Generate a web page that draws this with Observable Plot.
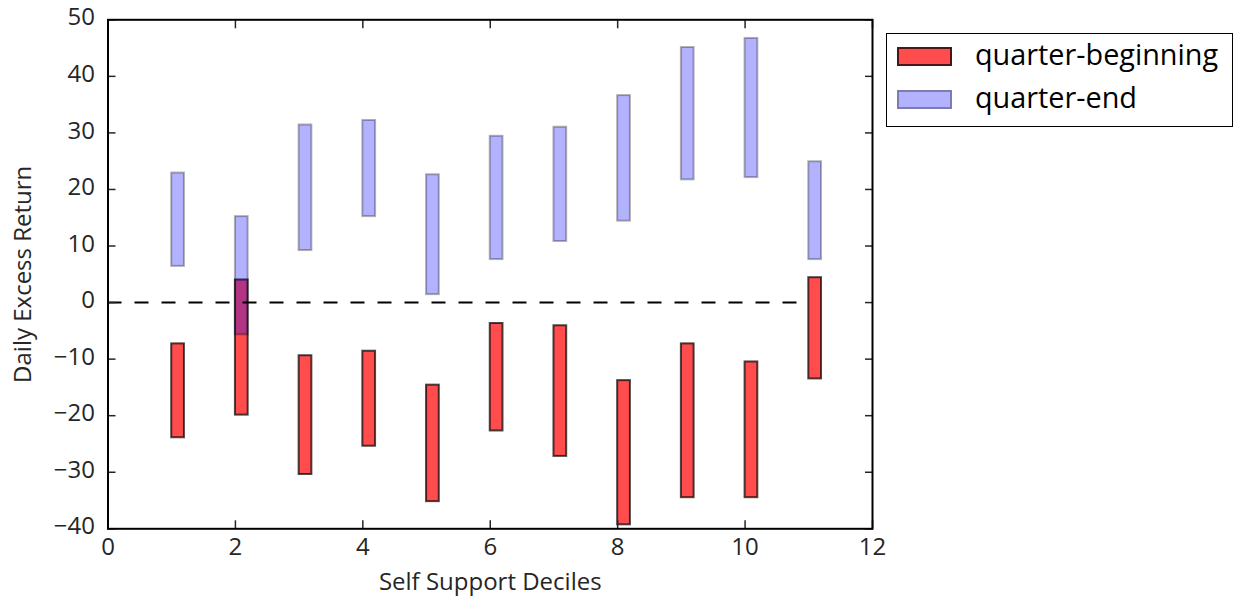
<!DOCTYPE html>
<html>
<head>
<meta charset="utf-8">
<script src="https://cdn.jsdelivr.net/npm/d3@7"></script>
<script src="https://cdn.jsdelivr.net/npm/@observablehq/plot@0.6"></script>
<style>
  body { margin: 0; background: #fff; }
  #wrap { position: relative; width: 1236px; height: 598px; font-family: "Open Sans", sans-serif; }
  .lg { position: absolute; box-sizing: border-box; }
  .lgt { position: absolute; font-size: 28.8px; line-height: 34px; color: #000; white-space: nowrap; }
</style>
</head>
<body>
<div id="wrap"></div>
<script>
// ---- data ----
const deciles = [1, 2, 3, 4, 5, 6, 7, 8, 9, 10, 11];
const beginLow  = [-23.9, -19.9, -30.4, -25.4, -35.2, -22.7, -27.2, -39.3, -34.5, -34.5, -13.5];
const beginHigh = [-7.3, 4.0, -9.4, -8.6, -14.6, -3.7, -4.1, -13.8, -7.3, -10.5, 4.4];
const endLow    = [6.4, -5.7, 9.2, 15.2, 1.4, 7.6, 10.8, 14.4, 21.7, 22.1, 7.6];
const endHigh   = [22.9, 15.2, 31.4, 32.2, 22.6, 29.4, 31.0, 36.6, 45.1, 46.7, 24.9];
const barWidth = 0.2;
const zeroLine = [{y: 0, x1: 0, x2: 11}];
const xTicks = [0, 2, 4, 6, 8, 10, 12];
const yTicks = [-40, -30, -20, -10, 0, 10, 20, 30, 40, 50];
const seriesNames = ["quarter-beginning", "quarter-end"];

const beginData = deciles.map((d, i) => ({x1: d, x2: d + barWidth, y1: beginLow[i], y2: beginHigh[i]}));
const endData = deciles.map((d, i) => ({x1: d, x2: d + barWidth, y1: endLow[i], y2: endHigh[i]}));

const plot = Plot.plot({
  width: 1236,
  height: 598,
  marginLeft: 107.5,
  marginRight: 364,
  marginTop: 19.3,
  marginBottom: 69.7,
  style: {fontFamily: "Open Sans", fontSize: "24px", color: "#262626", background: "#fff"},
  x: {domain: [0, 12]},
  y: {domain: [-40, 50]},
  marks: [
    Plot.rect(beginData, {x1: "x1", x2: "x2", y1: "y1", y2: "y2", fill: "red", fillOpacity: 0.7, stroke: "black", strokeOpacity: 0.7, strokeWidth: 2}),
    Plot.rect(endData, {x1: "x1", x2: "x2", y1: "y1", y2: "y2", fill: "blue", fillOpacity: 0.3, stroke: "black", strokeOpacity: 0.3, strokeWidth: 2}),
    Plot.ruleY(zeroLine, {y: "y", x1: "x1", x2: "x2", stroke: "black", strokeWidth: 2, strokeDasharray: "14,13"}),
    // x axis: inward ticks bottom + labels, inward ticks top
    Plot.axisX(xTicks, {anchor: "bottom", tickSize: -8, tickPadding: 17, strokeWidth: 1.5, label: "Self Support Deciles", labelAnchor: "center", labelArrow: "none", labelOffset: 60.7}),
    Plot.axisX(xTicks, {anchor: "top", tickSize: -8, strokeWidth: 1.5, tickFormat: () => "", label: null}),
    // y axis: inward ticks left (no shift), labels separately, inward ticks right
    Plot.axisY(yTicks, {anchor: "left", tickSize: -8, strokeWidth: 1.5, tickFormat: () => "", label: null}),
    Plot.axisY(yTicks, {anchor: "left", tickSize: 0, tickPadding: 13, dy: -2, label: "Daily Excess Return", labelAnchor: "center", labelArrow: "none", labelOffset: 94}),
    Plot.axisY(yTicks, {anchor: "right", tickSize: -8, strokeWidth: 1.5, tickFormat: () => "", label: null}),
    Plot.frame({stroke: "black", strokeWidth: 2})
  ]
});

const wrap = document.getElementById("wrap");
wrap.appendChild(plot);

// legend (right of the axes)
function box(left, top, w, h, css) {
  const d = document.createElement("div");
  d.className = "lg";
  Object.assign(d.style, {left: left + "px", top: top + "px", width: w + "px", height: h + "px"}, css);
  wrap.appendChild(d);
  return d;
}
box(885.7, 33.3, 347.6, 93.4, {border: "1.5px solid #000", background: "#fff"});
box(896.7, 46.7, 55.6, 19, {background: "rgba(255,0,0,0.7)", border: "2px solid rgba(0,0,0,0.7)"});
box(896.7, 90.2, 55.6, 19, {background: "rgba(0,0,255,0.3)", border: "2px solid rgba(0,0,0,0.3)"});
[[seriesNames[0], 36.8], [seriesNames[1], 80.3]].forEach(([t, top]) => {
  const s = document.createElement("div");
  s.className = "lgt";
  s.style.left = "975px";
  s.style.top = top + "px";
  s.textContent = t;
  wrap.appendChild(s);
});
</script>
</body>
</html>
